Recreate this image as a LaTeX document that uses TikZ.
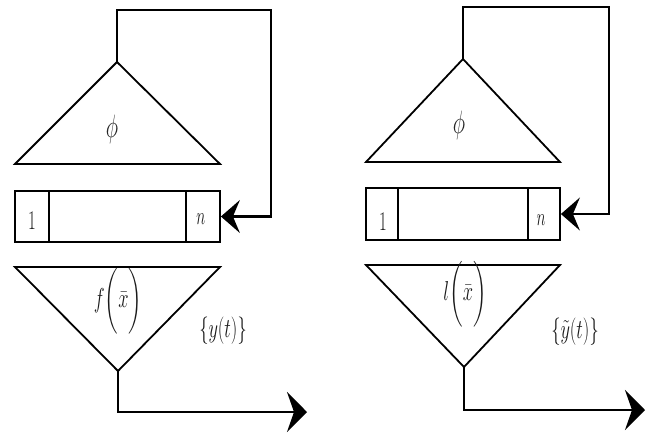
\documentclass[tikz,border=0pt]{standalone}
\usepackage{amsmath}
\usepackage{graphicx}
\usetikzlibrary{arrows.meta}
\newcommand{\narrowtext}[1]{\scalebox{0.74}[1.1]{#1}}
\newcommand{\narrowertext}[1]{\scalebox{0.62}[1]{#1}}
\newcommand{\phiglyph}{\scalebox{0.85}[1.3]{$\phi$}}
\begin{document}
\begin{tikzpicture}[x=1pt,y=-1pt,
  shp/.style={line width=1.8pt, line join=miter},
  wire/.style={line width=2.1pt},
  fb/.style={wire,-{Stealth[length=19pt,width=33pt,inset=7pt]}},
  outarrow/.style={wire,-{Stealth[length=20pt,width=40pt,inset=7pt]}},
  lbl/.style={text=black!90, inner sep=0pt, font=\fontsize{25}{30}\selectfont},
  philbl/.style={text=black!85, inner sep=0pt, font=\fontsize{25}{30}\selectfont},
  digit/.style={text=black!90, inner sep=0pt, font=\fontsize{27}{31}\selectfont},
  regbox/.style={draw, shp, rectangle, inner sep=0pt, minimum width=205pt, minimum height=51pt}]
\useasboundingbox (0,0) rectangle (647,432);

% ---------------- left diagram ----------------
\coordinate (LA) at (117,62);
\coordinate (LB1) at (15,164);
\coordinate (LB2) at (220,164);
\draw[shp] (LA) -- (LB1) -- (LB2) -- cycle;
\node[philbl] (Lphi) at (112,129) {\phiglyph};

\node[regbox] (LR) at (117.5,216.5) {};
\draw[shp] (49,191) -- (49,242);
\draw[shp] (186,191) -- (186,242);
\node[digit] (L1) at (32,221) {\narrowertext{1}};
\node[digit] (Ln) at (201,219) {\narrowertext{$n$}};

\coordinate (LT) at (117,10);
\coordinate (LTR) at (271,10);
\draw[fb] (LA) -- (LT) -- (LTR) |- (LR.east);

\coordinate (LD1) at (15,267);
\coordinate (LD2) at (220,267);
\coordinate (LDA) at (118,371);
\draw[shp] (LD1) -- (LD2) -- (LDA) -- cycle;
\node[lbl] (Lf) at (118,301) {\narrowtext{$f\biggl(\bar{x}\biggr)$}};
\node[lbl] (Ly) at (223,331) {\narrowtext{$\{y(t)\}$}};

\coordinate (LO) at (307,412);
\draw[outarrow] (LDA) |- (LO);

% ---------------- right diagram ----------------
\coordinate (RA) at (463,59);
\coordinate (RB1) at (366,162);
\coordinate (RB2) at (560,162);
\draw[shp] (RA) -- (RB1) -- (RB2) -- cycle;
\node[philbl] (Rphi) at (459,125) {\phiglyph};

\node[regbox, minimum width=194pt, minimum height=52pt] (RR) at (463,214) {};
\draw[shp] (398,188) -- (398,240);
\draw[shp] (528,188) -- (528,240);
\node[digit] (R1) at (383,222) {\narrowertext{1}};
\node[digit] (Rn) at (541,220) {\narrowertext{$n$}};

\coordinate (RT) at (463,7);
\coordinate (RTR) at (609,7);
\draw[fb] (RA) -- (RT) -- (RTR) |- (RR.east);

\coordinate (RD1) at (366,265);
\coordinate (RD2) at (560,265);
\coordinate (RDA) at (464,367);
\draw[shp] (RD1) -- (RD2) -- (RDA) -- cycle;
\node[lbl] (Rl) at (465,294) {\narrowtext{$l\biggl(\bar{x}\biggr)$}};
\node[lbl] (Ry) at (575,332) {\narrowtext{$\{\tilde{y}(t)\}$}};

\coordinate (RO) at (645,410);
\draw[outarrow] (RDA) |- (RO);
\end{tikzpicture}
\end{document}
